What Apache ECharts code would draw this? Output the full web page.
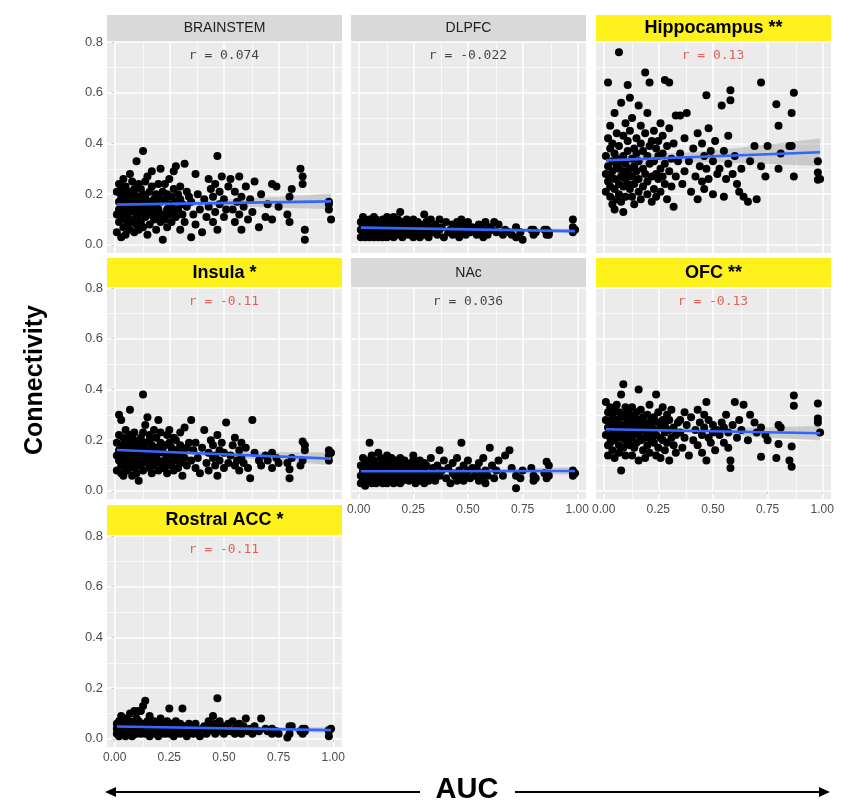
<!DOCTYPE html>
<html><head><meta charset="utf-8">
<script src="https://cdn.jsdelivr.net/npm/echarts@6/dist/echarts.min.js"></script>
<style>html,body{margin:0;padding:0;background:#fff}#c{width:850px;height:809px}</style>
</head><body><div id="c"></div>
<script>
// ---- data (AUC shared by all regions) ----
const auc = [
0.01,0.01,0.01,0.02,0.02,0.02,0.02,0.03,0.03,0.03,0.03,0.03,0.04,0.04,0.04,0.04,0.05,0.05,0.05,0.05,
0.05,0.06,0.06,0.06,0.06,0.07,0.07,0.07,0.07,0.07,0.08,0.08,0.08,0.08,0.09,0.09,0.09,0.09,0.09,0.10,
0.10,0.10,0.10,0.11,0.11,0.11,0.11,0.11,
0.12,0.12,0.12,0.12,0.13,0.13,0.13,0.13,0.14,0.14,0.14,0.14,0.15,0.15,0.15,0.16,0.16,0.16,0.16,0.17,
0.17,0.17,0.18,0.18,0.18,0.19,0.19,0.19,0.20,0.20,0.20,0.20,0.21,0.21,0.21,0.22,0.22,0.22,
0.23,0.23,0.23,0.24,0.24,0.24,0.25,0.25,0.25,0.26,0.26,0.26,0.27,0.27,0.27,0.28,0.28,0.28,0.29,0.29,
0.30,0.30,0.30,0.31,0.31,0.32,0.32,0.33,0.33,0.34,
0.35,0.35,0.36,0.37,0.37,0.38,0.39,0.40,0.41,0.42,0.43,0.43,0.44,0.45,0.45,0.46,0.46,0.47,0.47,0.48,
0.48,0.49,0.50,0.50,0.51,0.52,
0.53,0.54,0.55,0.55,0.56,0.57,0.57,0.58,0.58,0.59,0.60,0.61,0.62,0.63,0.64,0.66,0.67,0.69,
0.70,0.72,0.72,0.74,0.75,0.79,0.80,0.80,0.81,0.85,0.86,0.86,0.87,0.87,0.98,0.98,0.98,0.99];

const brainstem = [
0.21,0.12,0.05,0.17,0.09,0.24,0.14,0.19,0.03,0.11,0.22,0.15,0.07,0.18,0.26,0.13,0.10,0.20,0.04,0.16,
0.23,0.08,0.14,0.19,0.12,0.28,0.06,0.17,0.21,0.10,0.15,0.25,0.09,0.18,0.13,0.22,0.05,0.16,0.20,0.11,
0.33,0.14,0.08,0.19,0.24,0.12,0.17,0.06,
0.15,0.22,0.09,0.18,0.37,0.13,0.20,0.07,0.25,0.16,0.11,0.19,0.14,0.27,0.04,0.21,0.12,0.17,0.08,0.23,
0.15,0.29,0.10,0.18,0.13,0.20,0.06,0.16,0.24,0.11,0.19,0.14,0.30,0.09,0.17,0.21,0.12,0.02,
0.18,0.10,0.24,0.14,0.20,0.07,0.16,0.12,0.26,0.19,0.09,0.15,0.22,0.13,0.29,0.17,0.11,0.31,0.20,0.14,
0.06,0.18,0.23,0.12,0.16,0.32,0.09,0.21,0.15,0.19,
0.03,0.17,0.12,0.28,0.08,0.20,0.14,0.05,0.18,0.11,0.26,0.15,0.22,0.09,0.19,0.24,0.13,0.35,0.06,0.21,
0.16,0.27,0.11,0.18,0.14,0.23,
0.26,0.14,0.21,0.09,0.17,0.27,0.12,0.19,0.06,0.15,0.23,0.10,0.18,0.13,0.25,0.07,0.20,0.11,
0.16,0.24,0.10,0.23,0.15,0.12,0.19,0.09,0.22,0.30,0.27,0.24,0.06,0.02,0.17,0.16,0.14,0.10];

const dlpfc = [
0.06,0.09,0.03,0.07,0.11,0.04,0.08,0.05,0.10,0.06,0.03,0.07,0.09,0.05,0.04,0.08,0.06,0.10,0.03,0.07,
0.05,0.09,0.04,0.06,0.08,0.11,0.03,0.07,0.05,0.09,0.06,0.04,0.08,0.10,0.05,0.07,0.03,0.06,0.09,0.04,
0.08,0.05,0.07,0.10,0.06,0.03,0.09,0.05,
0.07,0.04,0.09,0.06,0.11,0.05,0.08,0.03,0.07,0.10,0.05,0.06,0.09,0.04,0.08,0.06,0.11,0.03,0.07,0.05,
0.09,0.06,0.04,0.08,0.10,0.13,0.05,0.07,0.06,0.03,0.09,0.05,0.08,0.04,0.07,0.10,0.06,0.05,
0.06,0.09,0.04,0.08,0.05,0.07,0.10,0.03,0.06,0.08,0.05,0.07,0.04,0.09,0.06,0.05,0.08,0.03,0.07,0.06,
0.12,0.04,0.08,0.05,0.09,0.06,0.03,0.07,0.10,0.05,
0.05,0.08,0.04,0.10,0.06,0.07,0.03,0.09,0.05,0.06,0.08,0.04,0.07,0.09,0.05,0.06,0.03,0.08,0.10,0.05,
0.07,0.04,0.06,0.09,0.05,0.07,
0.06,0.04,0.08,0.05,0.07,0.03,0.06,0.09,0.05,0.04,0.07,0.06,0.09,0.05,0.08,0.04,0.06,0.05,
0.04,0.07,0.03,0.05,0.02,0.06,0.04,0.06,0.05,0.06,0.04,0.06,0.05,0.04,0.10,0.07,0.05,0.06];

const hippocampus = [
0.28,0.35,0.21,0.64,0.42,0.25,0.31,0.19,0.38,0.27,0.47,0.23,0.33,0.16,0.29,0.40,0.14,0.36,0.22,0.52,
0.26,0.31,0.18,0.44,0.34,0.76,0.24,0.30,0.20,0.39,0.27,0.56,0.33,0.17,0.13,0.29,0.43,0.23,0.35,0.26,
0.48,0.32,0.19,0.63,0.37,0.24,0.41,0.28,
0.30,0.45,0.22,0.58,0.34,0.19,0.27,0.50,0.38,0.24,0.31,0.16,0.42,0.29,0.36,0.21,0.55,0.33,0.26,0.40,
0.18,0.47,0.30,0.23,0.37,0.68,0.28,0.44,0.20,0.35,0.52,0.25,0.64,0.32,0.39,0.17,0.41,0.27,
0.33,0.22,0.45,0.28,0.38,0.19,0.41,0.26,0.35,0.30,0.48,0.21,0.36,0.27,0.43,0.65,0.32,0.24,0.39,0.18,
0.64,0.29,0.46,0.34,0.23,0.15,0.40,0.51,0.27,0.33,
0.36,0.51,0.24,0.42,0.29,0.52,0.33,0.21,0.38,0.27,0.18,0.44,0.31,0.25,0.40,0.35,0.22,0.59,0.30,0.46,
0.26,0.37,0.20,0.33,0.41,0.28,
0.30,0.55,0.19,0.37,0.26,0.43,0.32,0.61,0.57,0.28,0.35,0.24,0.21,0.30,0.19,0.17,0.33,0.39,
0.18,0.64,0.31,0.27,0.39,0.555,0.47,0.30,0.36,0.39,0.52,0.39,0.60,0.27,0.33,0.285,0.257,0.26];

const insula = [
0.14,0.19,0.08,0.30,0.12,0.22,0.16,0.10,0.28,0.13,0.18,0.07,0.06,0.15,0.21,0.11,0.17,0.09,0.24,0.13,
0.19,0.15,0.08,0.20,0.12,0.32,0.16,0.10,0.22,0.14,0.18,0.06,0.13,0.21,0.11,0.17,0.09,0.23,0.15,0.12,
0.19,0.07,0.16,0.04,0.20,0.13,0.10,0.18,
0.15,0.10,0.21,0.13,0.38,0.17,0.08,0.23,0.12,0.19,0.14,0.26,0.29,0.11,0.16,0.09,0.20,0.13,0.22,0.07,
0.18,0.15,0.12,0.24,0.10,0.17,0.14,0.21,0.28,0.08,0.16,0.12,0.19,0.11,0.23,0.15,0.09,0.17,
0.12,0.18,0.09,0.22,0.14,0.07,0.19,0.11,0.24,0.15,0.10,0.17,0.13,0.21,0.08,0.16,0.20,0.12,0.14,0.09,
0.23,0.11,0.18,0.15,0.06,0.13,0.25,0.17,0.10,0.19,
0.12,0.28,0.16,0.09,0.19,0.13,0.07,0.17,0.24,0.11,0.15,0.08,0.20,0.13,0.18,0.10,0.14,0.22,0.06,0.16,
0.12,0.19,0.09,0.15,0.27,0.11,
0.14,0.18,0.10,0.21,0.12,0.16,0.08,0.19,0.13,0.11,0.17,0.09,0.05,0.28,0.15,0.12,0.10,0.14,
0.12,0.09,0.15,0.13,0.11,0.11,0.085,0.05,0.13,0.10,0.195,0.12,0.18,0.16,0.16,0.14,0.12,0.15];

const nac = [
0.06,0.10,0.03,0.08,0.13,0.05,0.07,0.11,0.04,0.09,0.06,0.02,0.08,0.12,0.05,0.07,0.19,0.10,0.04,0.06,
0.09,0.03,0.14,0.07,0.05,0.11,0.08,0.04,0.06,0.12,0.03,0.09,0.07,0.05,0.15,0.08,0.06,0.10,0.04,0.07,
0.13,0.05,0.09,0.03,0.06,0.11,0.08,0.05,
0.07,0.12,0.04,0.09,0.06,0.14,0.03,0.08,0.11,0.05,0.07,0.10,0.04,0.13,0.06,0.08,0.03,0.09,0.05,0.12,
0.07,0.04,0.10,0.06,0.08,0.13,0.05,0.03,0.09,0.07,0.11,0.04,0.06,0.08,0.12,0.05,0.07,0.10,
0.06,0.09,0.04,0.11,0.07,0.05,0.08,0.12,0.14,0.03,0.07,0.10,0.05,0.08,0.06,0.12,0.04,0.09,0.07,0.05,
0.11,0.03,0.08,0.06,0.10,0.04,0.07,0.13,0.05,0.09,
0.07,0.04,0.10,0.16,0.06,0.08,0.12,0.05,0.09,0.03,0.07,0.11,0.06,0.04,0.13,0.08,0.05,0.19,0.07,0.10,
0.04,0.06,0.12,0.08,0.05,0.09,
0.06,0.09,0.04,0.11,0.07,0.05,0.13,0.08,0.03,0.06,0.17,0.10,0.05,0.08,0.12,0.06,0.14,0.16,
0.09,0.01,0.06,0.05,0.08,0.09,0.06,0.04,0.05,0.07,0.115,0.05,0.10,0.06,0.07,0.06,0.08,0.07];

const ofc = [
0.35,0.22,0.28,0.18,0.31,0.25,0.14,0.27,0.21,0.33,0.19,0.26,0.30,0.23,0.16,0.29,0.24,0.32,0.20,0.27,
0.13,0.25,0.34,0.22,0.28,0.18,0.31,0.24,0.15,0.26,0.38,0.08,0.21,0.29,0.42,0.23,0.17,0.30,0.26,0.20,
0.33,0.24,0.14,0.28,0.22,0.31,0.19,0.27,
0.25,0.18,0.30,0.22,0.27,0.14,0.33,0.21,0.26,0.17,0.29,0.23,0.31,0.19,0.25,0.28,0.12,0.22,0.40,0.26,
0.20,0.32,0.16,0.24,0.29,0.21,0.27,0.13,0.23,0.30,0.18,0.25,0.22,0.34,0.15,0.28,0.20,0.26,
0.24,0.19,0.29,0.14,0.38,0.22,0.27,0.17,0.31,0.21,0.25,0.13,0.28,0.20,0.33,0.23,0.16,0.26,0.30,0.19,
0.24,0.12,0.28,0.21,0.32,0.18,0.25,0.15,0.22,0.27,
0.23,0.28,0.17,0.31,0.21,0.26,0.14,0.29,0.20,0.24,0.32,0.18,0.27,0.22,0.15,0.30,0.25,0.12,0.35,0.21,
0.28,0.19,0.26,0.23,0.16,0.24,
0.22,0.27,0.19,0.25,0.30,0.17,0.23,0.12,0.09,0.26,0.35,0.21,0.28,0.24,0.34,0.20,0.30,0.27,
0.23,0.135,0.25,0.22,0.20,0.13,0.26,0.185,0.25,0.12,0.175,0.095,0.376,0.336,0.345,0.285,0.27,0.23];

const rostralAcc = [
0.04,0.02,0.06,0.03,0.05,0.01,0.07,0.03,0.04,0.02,0.05,0.09,0.03,0.06,0.02,0.04,0.01,0.05,0.08,0.03,
0.04,0.06,0.02,0.05,0.03,0.10,0.04,0.02,0.07,0.03,0.05,0.01,0.04,0.06,0.03,0.11,0.02,0.05,0.04,0.08,
0.03,0.06,0.02,0.04,0.11,0.05,0.03,0.07,
0.11,0.03,0.05,0.02,0.13,0.04,0.06,0.03,0.15,0.05,0.02,0.04,0.07,0.03,0.05,0.01,0.04,0.09,0.03,0.06,
0.02,0.05,0.04,0.03,0.07,0.02,0.05,0.04,0.06,0.03,0.01,0.05,0.04,0.08,0.02,0.03,0.06,0.04,
0.04,0.02,0.06,0.03,0.05,0.07,0.12,0.04,0.02,0.05,0.03,0.06,0.04,0.01,0.05,0.03,0.07,0.02,0.04,0.05,
0.03,0.06,0.02,0.12,0.04,0.03,0.05,0.01,0.04,0.06,
0.03,0.05,0.02,0.04,0.06,0.03,0.01,0.04,0.05,0.02,0.07,0.03,0.05,0.09,0.04,0.06,0.02,0.16,0.05,0.03,
0.07,0.04,0.02,0.05,0.03,0.06,
0.03,0.07,0.04,0.02,0.05,0.03,0.06,0.04,0.02,0.05,0.08,0.03,0.04,0.02,0.05,0.03,0.08,0.04,
0.03,0.02,0.04,0.03,0.02,0.005,0.05,0.02,0.05,0.03,0.04,0.02,0.04,0.03,0.035,0.03,0.01,0.04];

const panelNames = ['BRAINSTEM','DLPFC','Hippocampus **','Insula *','NAc','OFC **','Rostral ACC *'];
const significant = [false,false,true,true,false,true,true];
const rLabels = ['r = 0.074','r = -0.022','r = 0.13','r = -0.11','r = 0.036','r = -0.13','r = -0.11'];
const yTicks = [0,0.2,0.4,0.6,0.8];
const yMinor = [0.1,0.3,0.5,0.7];
const xTicks = [0,0.25,0.5,0.75,1];
const xMinor = [0.125,0.375,0.625,0.875];
const xTitle = 'AUC';
const yTitle = 'Connectivity';

const regionValues = [brainstem, dlpfc, hippocampus, insula, nac, ofc, rostralAcc];

// ---- layout ----
const colLeft = [107, 351, 596], W = 235;
const rowTop = [42, 288, 536], H = 211;
const stripTop = [15, 258, 505];
const X_MIN = -0.035, X_MAX = 1.04, Y_MIN = -0.032, Y_MAX = 0.8;

function lmFit(xs, ys) {
  const n = Math.min(xs.length, ys.length);
  let mx = 0, my = 0;
  for (let i = 0; i < n; i++) { mx += xs[i]; my += ys[i]; }
  mx /= n; my /= n;
  let sxx = 0, sxy = 0;
  for (let i = 0; i < n; i++) { sxx += (xs[i]-mx)*(xs[i]-mx); sxy += (xs[i]-mx)*(ys[i]-my); }
  const b = sxy / sxx, a = my - b * mx;
  let sse = 0;
  for (let i = 0; i < n; i++) { const r = ys[i] - (a + b*xs[i]); sse += r*r; }
  const s = Math.sqrt(sse / (n - 2));
  let xmin = Infinity, xmax = -Infinity;
  for (let i = 0; i < n; i++) { xmin = Math.min(xmin, xs[i]); xmax = Math.max(xmax, xs[i]); }
  return {n, mx, sxx, a, b, s, xmin, xmax};
}

const grids = [], xAxes = [], yAxes = [], series = [], graphics = [];
regionValues.forEach((ys, i) => {
  const row = Math.floor(i / 3), col = i % 3;
  const showX = (i >= 4), showY = (col === 0);
  grids.push({left: colLeft[col], top: rowTop[row], width: W, height: H,
    show: true, backgroundColor: '#ebebeb', borderWidth: 0, containLabel: false});
  xAxes.push({gridIndex: i, type: 'value', min: X_MIN, max: X_MAX,
    axisLine: {show: false}, splitLine: {show: false},
    axisTick: {show: showX, length: 3, customValues: xTicks, lineStyle: {color: '#333', width: 1}},
    axisLabel: {show: showX, customValues: xTicks, formatter: v => v.toFixed(2), color: '#4d4d4d',
      fontSize: 12, fontFamily: 'Liberation Sans', margin: 5}});
  yAxes.push({gridIndex: i, type: 'value', min: Y_MIN, max: Y_MAX,
    axisLine: {show: false}, splitLine: {show: false},
    axisTick: {show: showY, length: 3, customValues: yTicks, lineStyle: {color: '#333', width: 1}},
    axisLabel: {show: showY, customValues: yTicks, formatter: v => v.toFixed(1), color: '#4d4d4d',
      fontSize: 13, fontFamily: 'Liberation Sans', margin: 4}});

  const pts = auc.map((x, k) => [x, ys[k]]);
  const f = lmFit(auc, ys);
  const upper = [], lower = [];
  for (let k = 0; k <= 40; k++) {
    const x = f.xmin + (f.xmax - f.xmin) * k / 40;
    const yh = f.a + f.b * x;
    const se = f.s * Math.sqrt(1 / f.n + (x - f.mx) * (x - f.mx) / f.sxx);
    upper.push([x, yh + 1.97 * se]); lower.push([x, yh - 1.97 * se]);
  }
  const gridLineData = [].concat(
    yTicks.map(v => ({yAxis: v, lineStyle: {width: 1.5}})),
    yMinor.map(v => ({yAxis: v, lineStyle: {width: 0.7}})),
    xTicks.map(v => ({xAxis: v, lineStyle: {width: 1.5}})),
    xMinor.map(v => ({xAxis: v, lineStyle: {width: 0.7}}))
  );
  // confidence band (also carries the panel grid lines)
  series.push({type: 'custom', xAxisIndex: i, yAxisIndex: i, silent: true, z: 2,
    data: [[f.xmin, f.a + f.b * f.xmin]],
    renderItem: (params, api) => {
      const poly = upper.map(p => api.coord(p)).concat(lower.slice().reverse().map(p => api.coord(p)));
      return {type: 'polygon', shape: {points: poly}, style: {fill: 'rgba(153,153,153,0.4)'}};
    },
    markLine: {silent: true, z: 1, symbol: ['none', 'none'], label: {show: false}, animation: false,
      lineStyle: {color: '#ffffff', type: 'solid'}, emphasis: {disabled: true}, data: gridLineData}
  });
  series.push({type: 'scatter', xAxisIndex: i, yAxisIndex: i, data: pts, symbolSize: 8,
    itemStyle: {color: '#000000', opacity: 1}, z: 3, silent: true});
  series.push({type: 'line', xAxisIndex: i, yAxisIndex: i, showSymbol: false, symbol: 'none', z: 4,
    data: [[f.xmin, f.a + f.b * f.xmin], [f.xmax, f.a + f.b * f.xmax]],
    lineStyle: {color: '#3366FF', width: 2.6}, silent: true});
  series.push({type: 'scatter', xAxisIndex: i, yAxisIndex: i, data: [[0.5, 0.745]], symbolSize: 0, z: 5,
    silent: true,
    label: {show: true, position: 'inside', formatter: rLabels[i], fontFamily: 'DejaVu Sans Mono',
      fontSize: 13, color: significant[i] ? '#d8413a' : '#1a1a1a'}});

  // strip
  graphics.push({type: 'rect', shape: {x: colLeft[col], y: stripTop[row], width: W, height: rowTop[row] - stripTop[row]},
    style: {fill: significant[i] ? '#fff21c' : '#d9d9d9'}, silent: true});
  graphics.push({type: 'text', x: colLeft[col] + W / 2, y: (stripTop[row] + rowTop[row]) / 2, silent: true,
    style: {text: panelNames[i], textAlign: 'center', textVerticalAlign: 'middle',
      fontFamily: 'Liberation Sans', fontSize: significant[i] ? 18 : 14,
      fontWeight: significant[i] ? 'bold' : 'normal', fill: significant[i] ? '#000' : '#222'}});
});

// axis titles and arrow
graphics.push({type: 'text', x: 35, y: 380, rotation: Math.PI / 2, silent: true,
  style: {text: yTitle, textAlign: 'center', textVerticalAlign: 'middle', fontFamily: 'Liberation Sans',
    fontSize: 25, fontWeight: 'bold', fill: '#000'}});
graphics.push({type: 'text', x: 467, y: 790, silent: true,
  style: {text: xTitle, textAlign: 'center', textVerticalAlign: 'middle', fontFamily: 'Liberation Sans',
    fontSize: 29, fontWeight: 'bold', fill: '#000'}});
graphics.push({type: 'line', shape: {x1: 112, y1: 792, x2: 420, y2: 792}, style: {stroke: '#000', lineWidth: 2}, silent: true});
graphics.push({type: 'line', shape: {x1: 515, y1: 792, x2: 823, y2: 792}, style: {stroke: '#000', lineWidth: 2}, silent: true});
graphics.push({type: 'polygon', shape: {points: [[105, 792], [116, 787], [116, 797]]}, style: {fill: '#000'}, silent: true});
graphics.push({type: 'polygon', shape: {points: [[830, 792], [819, 787], [819, 797]]}, style: {fill: '#000'}, silent: true});

const chart = echarts.init(document.getElementById('c'), null, {renderer: 'canvas'});
chart.setOption({
  animation: false,
  backgroundColor: '#ffffff',
  grid: grids, xAxis: xAxes, yAxis: yAxes, series: series,
  graphic: {elements: graphics}
});
</script></body></html>
